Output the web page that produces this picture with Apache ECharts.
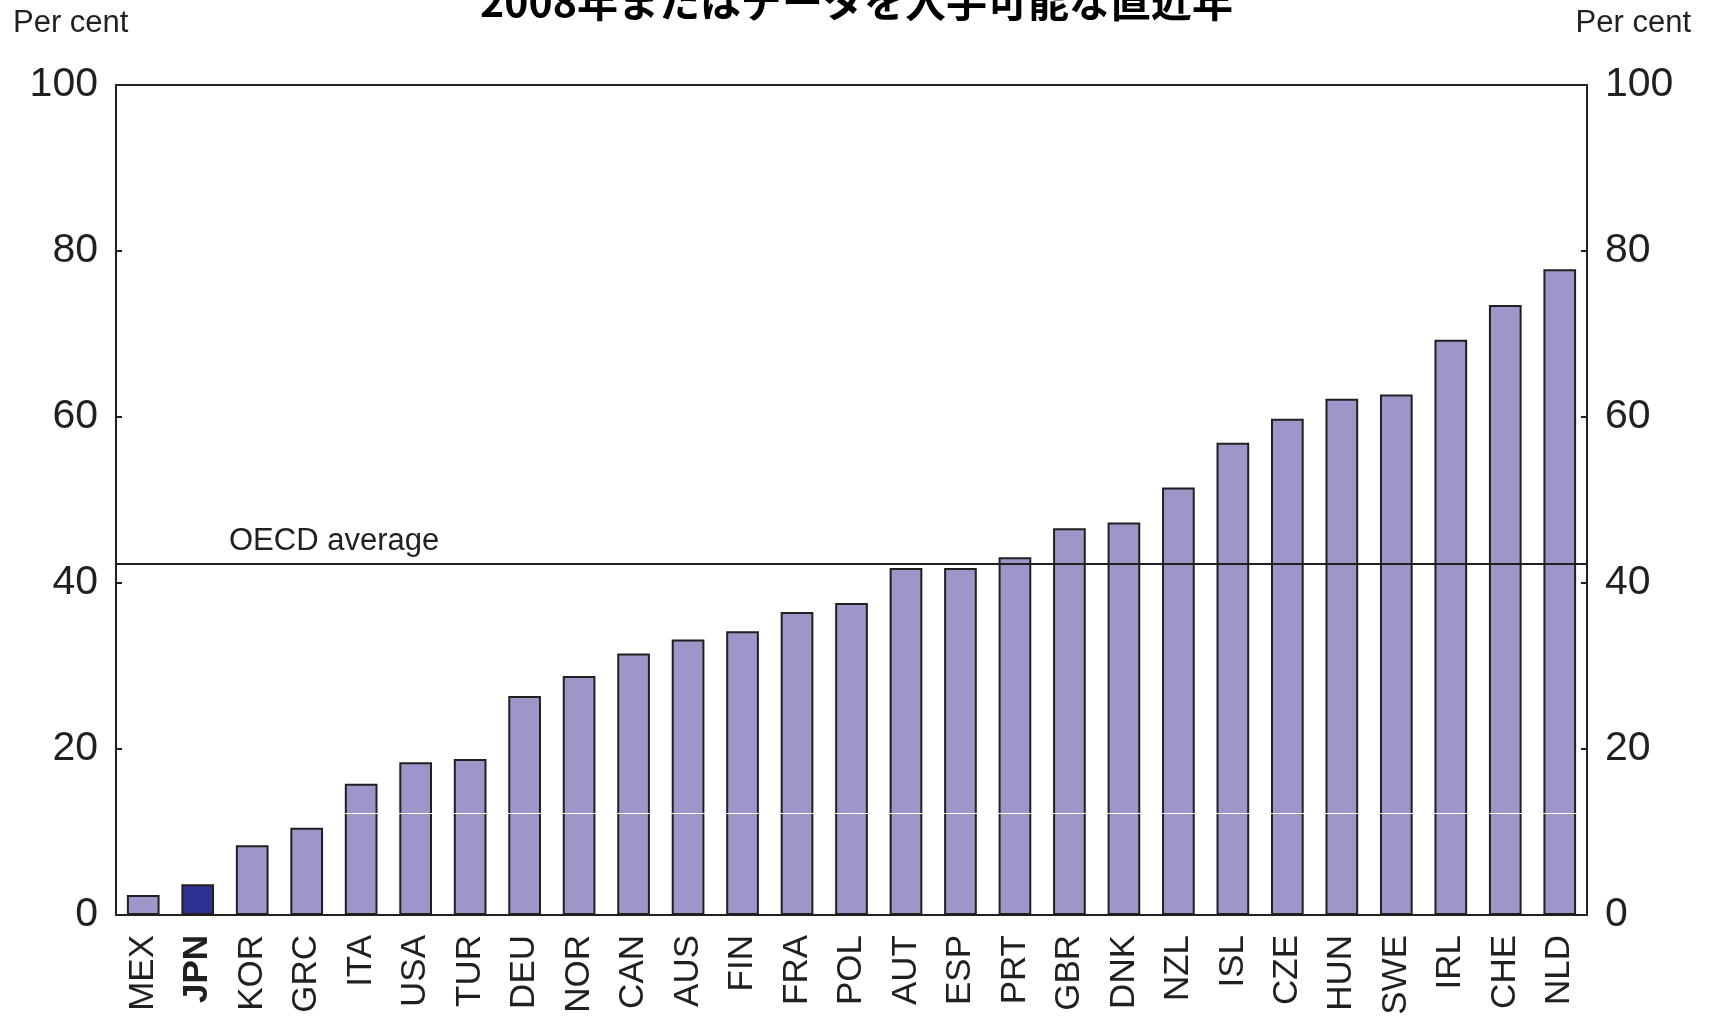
<!DOCTYPE html>
<html>
<head>
<meta charset="utf-8">
<style>
  html, body { margin: 0; padding: 0; background: #fff; }
  #chart { width: 1713px; height: 1030px; }
</style>
<script src="https://cdn.jsdelivr.net/npm/echarts@6/dist/echarts.min.js"></script>
</head>
<body>
<div id="chart"></div>
<script>
// データ
const countries = ["MEX", "JPN", "KOR", "GRC", "ITA", "USA", "TUR", "DEU", "NOR", "CAN", "AUS", "FIN", "FRA", "POL",
  "AUT", "ESP", "PRT", "GBR", "DNK", "NZL", "ISL", "CZE", "HUN", "SWE", "IRL", "CHE", "NLD"];
const shares = [2.4, 3.7, 8.4, 10.5, 15.8, 18.4, 18.8, 26.4, 28.8, 31.5, 33.2, 34.2, 36.5, 37.6,
  41.8, 41.8, 43.1, 46.6, 47.3, 51.5, 56.9, 59.8, 62.2, 62.7, 69.3, 73.5, 77.8];
const oecdAverage = 42.3;
const yTicks = [0, 20, 40, 60, 80, 100];

const sans = "'Liberation Sans', Arial, sans-serif";
const ink = "#231F20";

const chart = echarts.init(document.getElementById("chart"));

const yAxisBase = (pos) => ({
  type: "value",
  position: pos,
  z: 5,
  min: yTicks[0],
  max: yTicks[yTicks.length - 1],
  interval: yTicks[1] - yTicks[0],
  axisLine: { show: true, lineStyle: { color: ink, width: 2 } },
  axisTick: { show: true, inside: true, length: 6, lineStyle: { color: ink, width: 2 } },
  splitLine: { show: false },
  axisLabel: { color: ink, fontFamily: sans, fontSize: 41, margin: 18 },
});

chart.setOption({
  animation: false,
  backgroundColor: "#fff",
  title: {
    text: "2008年またはデータを入手可能な直近年",
    left: "center",
    top: -24,
    textStyle: { fontFamily: "'Noto Sans CJK JP', sans-serif", fontWeight: "bold", fontSize: 41, color: "#000" },
  },
  graphic: [
    { type: "text", left: 13, top: 8, style: { text: "Per cent", fontFamily: sans, fontSize: 31, fill: ink } },
    { type: "text", right: 22, top: 8, style: { text: "Per cent", fontFamily: sans, fontSize: 31, fill: ink } },
  ],
  grid: { left: 116, right: 126, top: 85, bottom: 115, show: true, borderColor: ink, borderWidth: 2 },
  xAxis: {
    type: "category",
    data: countries,
    z: 5,
    axisLine: { lineStyle: { color: ink, width: 2 } },
    axisTick: { show: false },
    axisLabel: {
      interval: 0,
      rotate: 90,
      margin: 20,
      color: ink,
      fontFamily: sans,
      fontSize: 35,
      formatter: (v) => (v === "JPN" ? "{b|" + v + "}" : v),
      rich: { b: { fontWeight: "bold", fontSize: 35, fontFamily: sans, color: ink } },
    },
  },
  yAxis: [yAxisBase("left"), yAxisBase("right")],
  series: [
    {
      type: "bar",
      data: shares.map((v, i) => ({
        value: v,
        itemStyle: { color: countries[i] === "JPN" ? "#2E3192" : "#9D97C9" },
      })),
      barWidth: "60%",
      itemStyle: { borderColor: ink, borderWidth: 2 },
      markLine: {
        silent: true,
        symbol: "none",
        data: [
          {
            yAxis: oecdAverage,
            lineStyle: { color: ink, width: 2, type: "solid" },
            label: {
              show: true,
              formatter: "OECD average",
              position: "insideStartTop",
              distance: [113, 7],
              color: ink,
              fontFamily: sans,
              fontSize: 31,
            },
          },
          {
            yAxis: 12.3,
            lineStyle: { color: "#fff", width: 1, type: "solid" },
            label: { show: false },
          },
        ],
      },
    },
  ],
});
</script>
</body>
</html>
